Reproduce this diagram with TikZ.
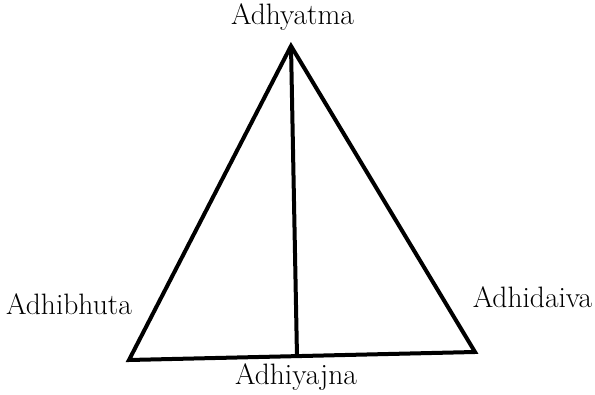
\documentclass[tikz,border=0pt]{standalone}
\usetikzlibrary{calc}
\begin{document}
\begin{tikzpicture}[x=1pt,y=-1pt,
  edge/.style={line width=4pt,line join=miter},
  lbl/.style={anchor=base,inner sep=0pt,font=\fontsize{29.5}{34}\selectfont}]
\useasboundingbox (0,0) rectangle (595,395);
\coordinate (top) at (291,46);
\coordinate (bl) at (129,360);
\coordinate (br) at (475,352);
\coordinate (mid) at ($(bl)!0.4855!(br)$);
\draw[edge] (top) -- (bl) -- (br) -- cycle;
\draw[edge] (top) -- (mid);
\node[lbl] (adhyatma) at (292.5,25) {Adhyatma};
\node[lbl] (adhibhuta) at (69,315) {Adhibhuta};
\node[lbl] (adhidaiva) at (532.5,308) {Adhidaiva};
\node[lbl] (adhiyajna) at (296,385) {Adhiyajna};
\end{tikzpicture}
\end{document}
